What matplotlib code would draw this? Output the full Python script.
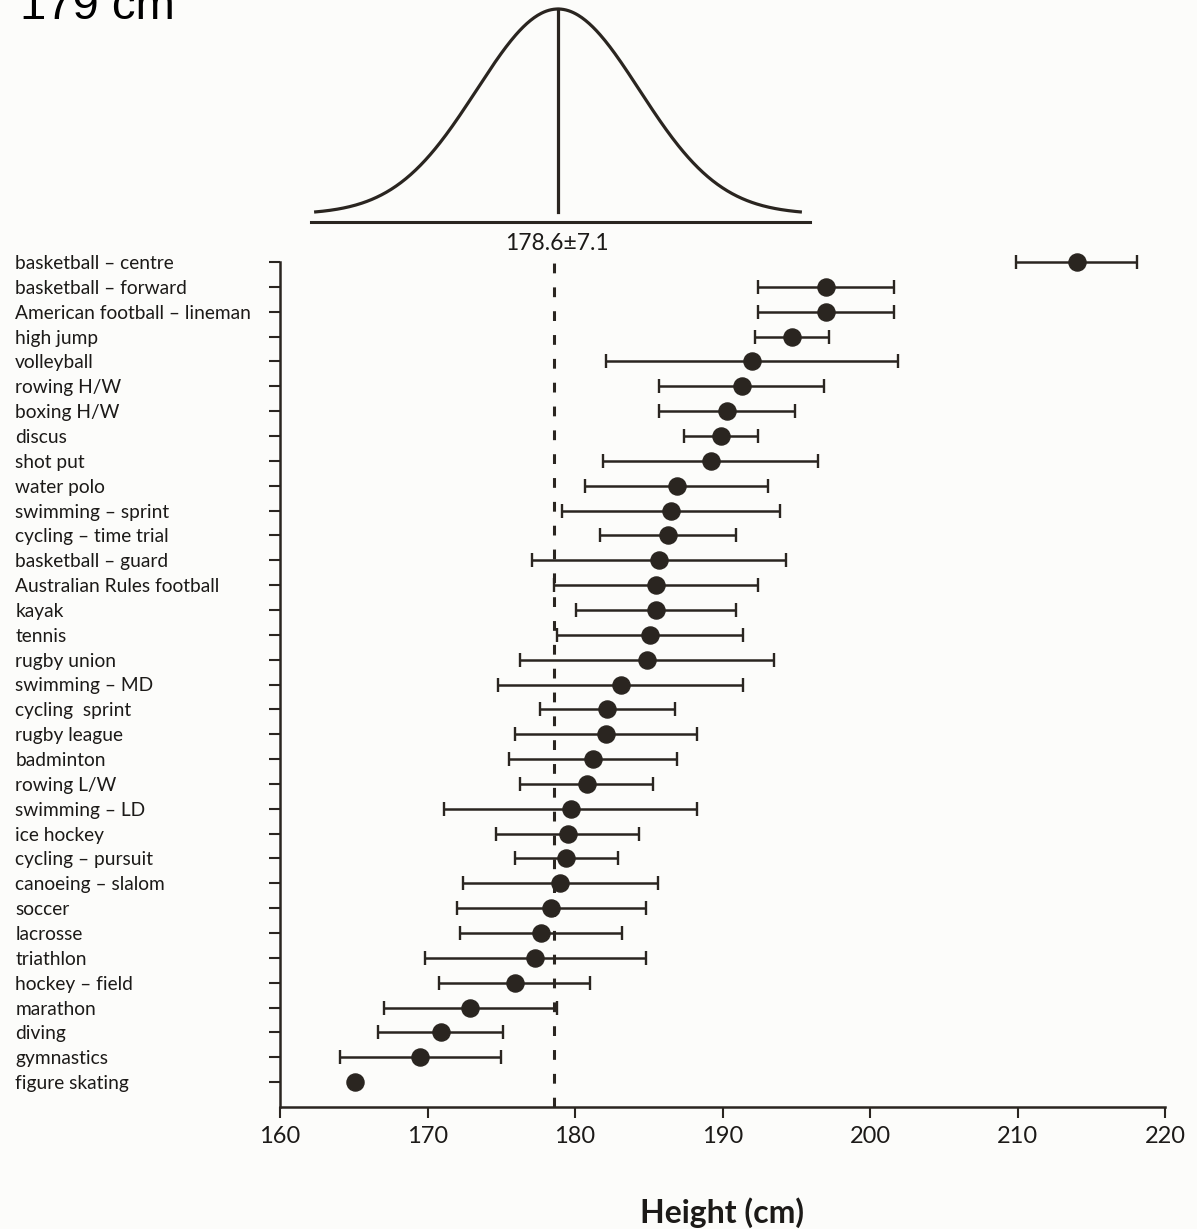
import numpy as np
import matplotlib
matplotlib.use('Agg')
import matplotlib.pyplot as plt

plt.rcParams['font.family'] = ['Lato', 'DejaVu Sans']

# ---------------- data ----------------
sports = [
    "basketball – centre", "basketball – forward", "American football – lineman",
    "high jump", "volleyball", "rowing H/W", "boxing H/W", "discus", "shot put",
    "water polo", "swimming – sprint", "cycling – time trial", "basketball – guard",
    "Australian Rules football", "kayak", "tennis", "rugby union", "swimming – MD",
    "cycling  sprint", "rugby league", "badminton", "rowing L/W", "swimming – LD",
    "ice hockey", "cycling – pursuit", "canoeing – slalom", "soccer", "lacrosse",
    "triathlon", "hockey – field", "marathon", "diving", "gymnastics", "figure skating",
]
mean_height = [
    214.0, 197.0, 197.0, 194.7, 192.0, 191.3, 190.3, 189.9, 189.2,
    186.9, 186.5, 186.3, 185.7, 185.5, 185.5, 185.1, 184.9, 183.1,
    182.2, 182.1, 181.2, 180.8, 179.7, 179.5, 179.4, 179.0, 178.4,
    177.7, 177.3, 175.9, 172.9, 170.9, 169.5, 165.1,
]
sd_height = [
    4.1, 4.6, 4.6, 2.5, 9.9, 5.6, 4.6, 2.5, 7.3,
    6.2, 7.4, 4.6, 8.6, 6.9, 5.4, 6.3, 8.6, 8.3,
    4.6, 6.2, 5.7, 4.5, 8.6, 4.85, 3.5, 6.6, 6.4,
    5.5, 7.5, 5.1, 5.85, 4.25, 5.45, 0.0,
]
pop_mean = 178.6
pop_sd = 7.1
x_ticks = [160, 170, 180, 190, 200, 210, 220]
x_label = "Height (cm)"
corner_text = "179 cm"

# ---------------- layout helpers ----------------
W, H = 1197, 1229
ink = '#2a2520'
txt = '#1c1a18'


def fx(px):
    return px / W


def fy(py):
    return 1 - py / H


fig = plt.figure(figsize=(W / 100, H / 100), dpi=100)
fig.patch.set_facecolor('#fcfcfa')

# ---------------- main axes ----------------
ax = fig.add_axes([fx(280), fy(1107), fx(1165) - fx(280), fy(262) - fy(1107)])
ax.set_facecolor('none')
n = len(sports)
ypos = np.arange(n)
ax.set_xlim(x_ticks[0], x_ticks[-1])
ax.set_ylim(n, 0)

mean_arr = np.array(mean_height)
sd_arr = np.array(sd_height)
has_bar = sd_arr > 0

ax.plot([pop_mean, pop_mean], [n, -0.25], color=ink, lw=2.2,
        linestyle=(0, (3.2, 4.6)), clip_on=False, zorder=1)

ax.errorbar(mean_arr[has_bar], ypos[has_bar], xerr=sd_arr[has_bar], fmt='none',
            ecolor=ink, elinewidth=1.8, capsize=5.0, capthick=1.7, zorder=2,
            clip_on=False)
ax.plot(mean_arr, ypos, 'o', ms=12.3, color=ink, mec=ink, zorder=3, clip_on=False)

for s in ('top', 'right'):
    ax.spines[s].set_visible(False)
for s in ('left', 'bottom'):
    ax.spines[s].set_linewidth(1.8)
    ax.spines[s].set_color(ink)

ax.set_yticks(ypos, labels=sports)
ax.tick_params(axis='y', direction='out', length=7.7, width=1.5, color=ink,
               pad=183, labelsize=13.8, labelcolor=txt)
for lab in ax.get_yticklabels():
    lab.set_horizontalalignment('left')

ax.set_xticks(x_ticks, labels=[str(t) for t in x_ticks])
ax.tick_params(axis='x', direction='out', length=7.6, width=1.5, color=ink,
               pad=6, labelsize=17, labelcolor=txt)

fig.text(fx(722.5), fy(1213), x_label, ha='center', va='center',
         fontsize=23, fontweight='bold', color=txt)

# ---------------- normal-curve inset ----------------
px_per_sd = 81.3
cx = 558
ax2 = fig.add_axes([fx(311), fy(222), fx(810) - fx(311), fy(9) - fy(222)])
ax2.axis('off')
ax2.set_xlim(pop_mean - (cx - 311) / px_per_sd * pop_sd,
             pop_mean + (810 - cx) / px_per_sd * pop_sd)
ax2.set_ylim(0, 1)
xs = np.linspace(pop_mean - 3 * pop_sd, pop_mean + 3 * pop_sd, 400)
z = (xs - pop_mean) / pop_sd
curve = 0.036 + 0.964 * np.exp(-0.5 * z ** 2)
ax2.plot(xs, curve, color=ink, lw=2.3, clip_on=False, solid_capstyle='butt')
ax2.plot([pop_mean, pop_mean], [curve[0], 1.0], color=ink, lw=2.3, clip_on=False)
ax2.axhline(0, color=ink, lw=2.2, clip_on=False)

fig.text(fx(557), fy(244), f"{pop_mean}±{pop_sd}", ha='center', va='center',
         fontsize=16.5, color=txt)

# ---------------- partially cropped corner text (cropped in the reference) ----------------
fig.text(fx(20), fy(19), corner_text, ha='left', va='baseline',
         fontsize=34, family=['Liberation Sans', 'DejaVu Sans'], color='black')

fig.savefig('out.png', dpi=100, facecolor=fig.get_facecolor())
